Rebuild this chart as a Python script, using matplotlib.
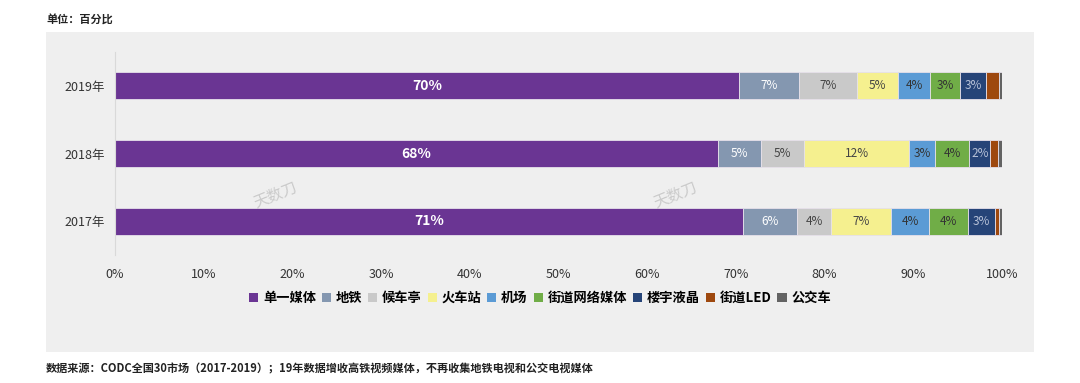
import matplotlib.pyplot as plt
from matplotlib.patches import Rectangle

plt.rcParams['font.family'] = ['Noto Sans CJK SC', 'DejaVu Sans']

years = ["2017年", "2018年", "2019年"]
media = ["单一媒体", "地铁", "候车亭", "火车站", "机场", "街道网络媒体", "楼宇液晶", "街道LED", "公交车"]
shares = {
    "2017年": [70.8, 6.1, 3.8, 6.8, 4.3, 4.4, 3.0, 0.5, 0.3],
    "2018年": [68.0, 4.8, 4.9, 11.8, 3.0, 3.8, 2.4, 0.8, 0.5],
    "2019年": [70.4, 6.7, 6.6, 4.6, 3.6, 3.4, 2.9, 1.5, 0.3],
}
colors = ["#6a3593", "#8497b0", "#c9c9c9", "#f5f08f", "#5b9bd5", "#70ad47", "#264478", "#9e480e", "#636363"]
label_colors = ["white", "white", "#444444", "#444444", "#333333", "#333333", "#b8c2d8", None, None]

fig = plt.figure(figsize=(10.8, 3.83), dpi=100)
fig.patches.append(Rectangle((46 / 1080, 1 - 352 / 383), (1034 - 46) / 1080, (352 - 32) / 383,
                             transform=fig.transFigure, facecolor="#efefef", edgecolor="none", zorder=-5))

ax = fig.add_axes([115 / 1080, 1 - 255 / 383, (1002 - 115) / 1080, (255 - 52) / 383])
ax.set_facecolor("none")
ax.set_zorder(2)

for i, y in enumerate(years):
    left = 0
    for j, v in enumerate(shares[y]):
        ax.barh(i, v, left=left, height=0.4, color=colors[j], edgecolor="#e6e0ea", linewidth=0.6)
        if v >= 2:
            if j == 0:
                ax.text(left + v / 2, i, f"{v:.0f}%", ha="center", va="center",
                        color="white", fontsize=10, fontweight="bold")
            else:
                ax.text(left + v / 2, i, f"{v:.0f}%", ha="center", va="center",
                        color=label_colors[j], fontsize=8.5)
        left += v

ax.set_xlim(0, 100)
ax.set_ylim(-0.5, 2.5)
ax.set_yticks(range(len(years)))
ax.set_yticklabels(years, fontsize=9, color="#333333")
ax.set_xticks(range(0, 101, 10))
ax.set_xticklabels([f"{t}%" for t in range(0, 101, 10)], fontsize=9, color="#333333")
ax.tick_params(length=0, pad=7)
ax.tick_params(axis="x", pad=9)
for s in ["top", "right", "bottom"]:
    ax.spines[s].set_visible(False)
ax.spines["left"].set_color("#d9d9d9")
ax.spines["left"].set_linewidth(0.8)

# watermarks
for wx in [0.255, 0.625]:
    fig.text(wx, 0.49, "天数刀", fontsize=11, color="#bbbbbb", rotation=22, ha="center", va="center",
             alpha=0.7, zorder=5)

handles = [Rectangle((0, 0), 1, 1, facecolor=c) for c in colors]
fig.legend(handles, media, loc="center", bbox_to_anchor=(0.5, 1 - 298 / 383), ncol=len(media),
           frameon=False, handlelength=0.7, handleheight=0.7, handletextpad=0.35,
           columnspacing=0.45, prop={"weight": "bold", "size": 9.5})

fig.text(46 / 1080, 1 - 20 / 383, "单位：百分比", fontsize=8, fontweight="bold", va="center", color="#222222")
fig.text(46 / 1080, 1 - 369 / 383,
         "数据来源：CODC全国30市场（2017-2019）；19年数据增收高铁视频媒体，不再收集地铁电视和公交电视媒体",
         fontsize=8, fontweight="bold", va="center", color="#222222")

fig.savefig("out.png", dpi=100)
